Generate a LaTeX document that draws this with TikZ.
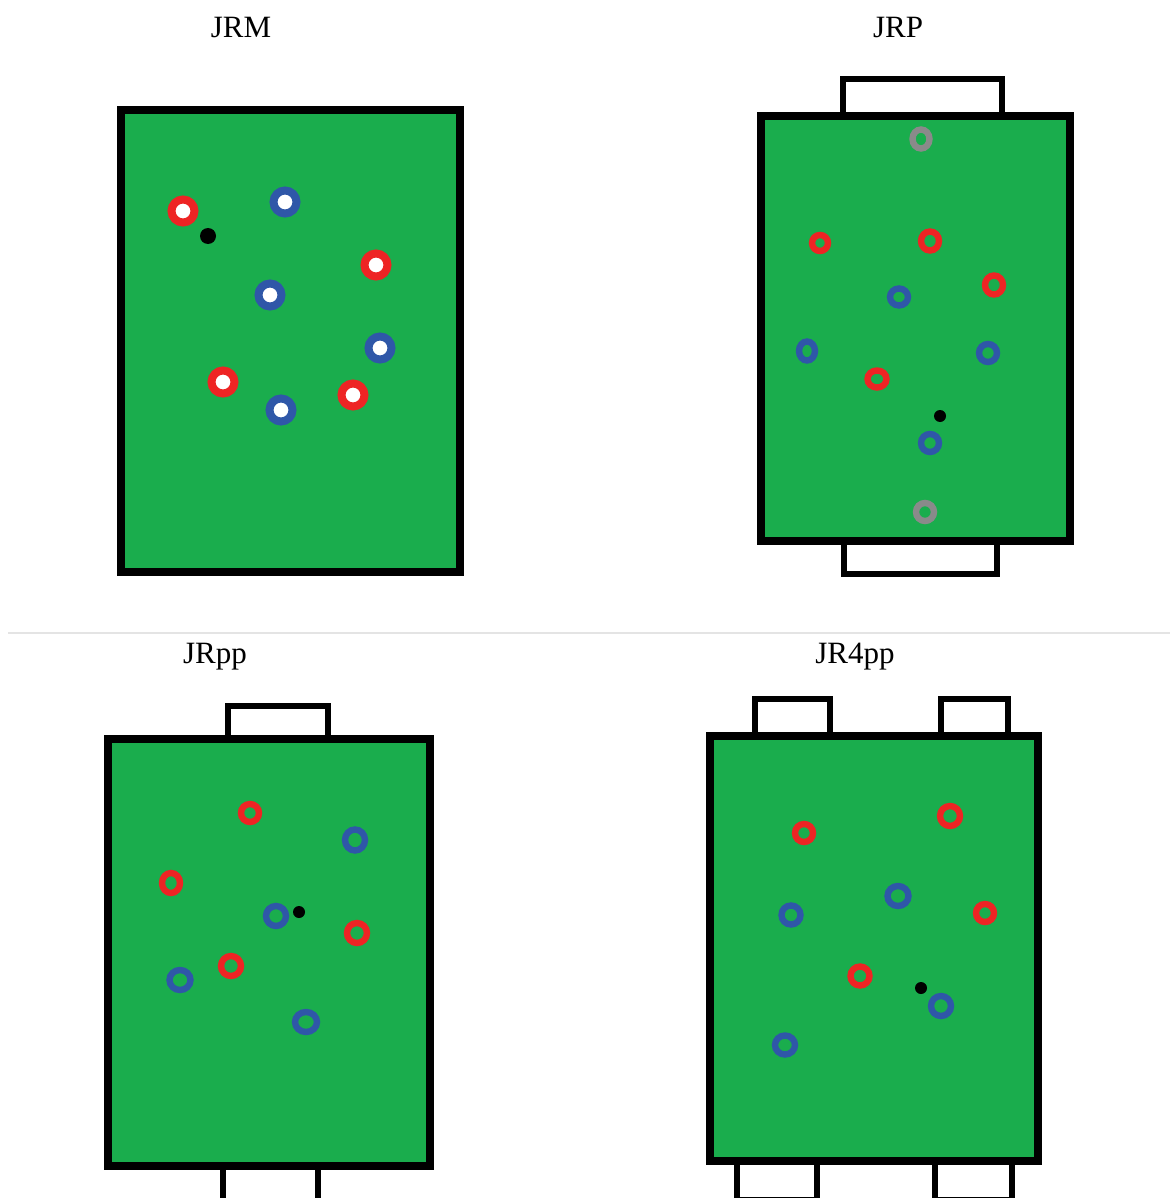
\documentclass[tikz,border=0pt]{standalone}
\usepackage{fontspec}
\setmainfont{Liberation Serif}
\definecolor{pitch}{HTML}{1AAD4D}
\definecolor{rred}{HTML}{EE2424}
\definecolor{rblue}{HTML}{2F57A8}
\definecolor{rgray}{HTML}{8A8A8A}
\definecolor{sep}{HTML}{E4E4E4}
\begin{document}
\begin{tikzpicture}[x=0.5pt,y=-0.5pt,
  field/.style={fill=pitch,draw=black,line width=4pt},
  goalbox/.style={fill=white,draw=black,line width=3pt},
  wring/.style={draw=#1,line width=4pt,fill=white},
  gring/.style={draw=#1,line width=3.2pt},
  ball/.style={fill=black},
  title/.style={font=\fontsize{15.5}{18}\selectfont,inner sep=0pt}]
\useasboundingbox (0,0) rectangle (1170,1198);

% separator
\draw[sep,line width=1pt] (8,633) -- (1170,633);

% titles
\node[title] (tJRM) at (241,28) {JRM};
\node[title] (tJRP) at (898,28) {JRP};
\node[title] (tJRpp) at (215,657) {JRpp};
\node[title] (tJR4pp) at (855,657) {JR4pp};

% ---------- JRM ----------
\draw[field] (121,110) rectangle (460,572);
\foreach \x/\y/\c in {183/211/rred,285/202/rblue,376/265/rred,270/295/rblue,
  380/348/rblue,223/382/rred,281/410/rblue,353/395/rred}
  \draw[wring=\c] (\x,\y) ellipse [x radius=11.5, y radius=11.5];
\fill[ball] (208,236) circle [radius=8];

% ---------- JRP ----------
\draw[goalbox] (843,79) rectangle (1002,116);
\draw[goalbox] (844,541) rectangle (997,574);
\draw[field] (761,116) rectangle (1070,541);
\foreach \x/\y/\c/\rx/\ry in {921/139/rgray/8.5/9.5,820/243/rred/8/8,930/241/rred/9/9.5,
  994/285/rred/9/9.5,899/297/rblue/9/8.5,807/351/rblue/8/9.5,988/353/rblue/9/9,
  877/379/rred/9.5/8.5,930/443/rblue/9/9,925/512/rgray/9/9}
  \draw[gring=\c] (\x,\y) ellipse [x radius=\rx, y radius=\ry];
\fill[ball] (940,416) circle [radius=6];

% ---------- JRpp ----------
\draw[goalbox] (228,706) rectangle (328,739);
\draw[goalbox] (223,1166) rectangle (318,1205);
\draw[field] (108,739) rectangle (430,1166);
\foreach \x/\y/\c/\rx/\ry in {250/813/rred/9/9,355/840/rblue/10/10.5,171/883/rred/9/10,
  276/916/rblue/10/10,357/933/rred/10/10,231/966/rred/10/10,180/980/rblue/10.5/10,
  306/1022/rblue/11/10}
  \draw[gring=\c] (\x,\y) ellipse [x radius=\rx, y radius=\ry];
\fill[ball] (299,912) circle [radius=6];

% ---------- JR4pp ----------
\draw[goalbox] (755,699) rectangle (830,736);
\draw[goalbox] (941,699) rectangle (1008,736);
\draw[goalbox] (737,1161) rectangle (817,1200);
\draw[goalbox] (935,1161) rectangle (1012,1200);
\draw[field] (710,736) rectangle (1038,1161);
\foreach \x/\y/\c/\rx/\ry in {804/833/rred/9/9,950/816/rred/10/10,898/896/rblue/10.5/10,
  791/915/rblue/9.5/9.5,985/913/rred/9/9,860/976/rred/9.5/9.5,941/1006/rblue/10/10,
  785/1045/rblue/10/9.5}
  \draw[gring=\c] (\x,\y) ellipse [x radius=\rx, y radius=\ry];
\fill[ball] (921,988) circle [radius=6];
\end{tikzpicture}
\end{document}
